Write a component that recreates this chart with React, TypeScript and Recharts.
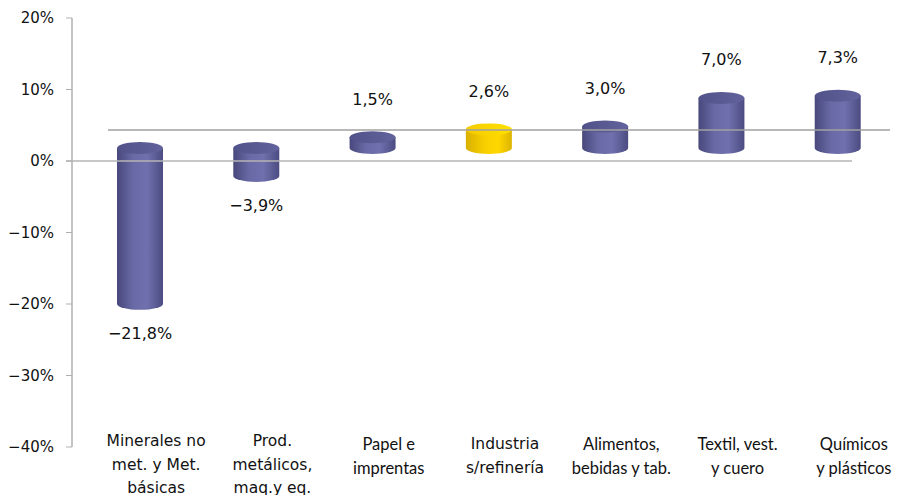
import { Bar, BarChart, Cell, LabelList, ReferenceLine, XAxis, YAxis } from 'recharts'

const categories = [
  ['Minerales no', 'met. y Met.', 'básicas'],
  ['Prod.', 'metálicos,', 'maq.y eq.'],
  ['Papel e', 'imprentas'],
  ['Industria', 's/refinería'],
  ['Alimentos,', 'bebidas y tab.'],
  ['Textil, vest.', 'y cuero'],
  ['Químicos', 'y plásticos'],
]
const values = [-21.8, -3.9, 1.5, 2.6, 3.0, 7.0, 7.3]
const highlighted = [false, false, false, true, false, false, false]
const yTicks = [-40, -30, -20, -10, 0, 10, 20]

const data = categories.map((lines, i) => ({
  name: lines.join(' '),
  value: values[i],
  hl: highlighted[i],
}))

const FONT = '"DejaVu Sans", sans-serif'
const FONT_NARROW = 'Lato, sans-serif'
// the source mixes two typefaces in the category labels
const narrowLabel = [false, false, true, false, true, true, true]
const DEPTH = 13
const RY = 6

const fmtPct = (v: number) => `${v < 0 ? '−' : ''}${Math.abs(v).toFixed(1).replace('.', ',')}%`

function Cylinder(props: any) {
  const { x, y, width, height, payload } = props
  const base = y + height - DEPTH
  const end = y - DEPTH
  const top = Math.min(base, end)
  const bottom = Math.max(base, end)
  const rx = width / 2
  const cx = x + rx
  const hl = payload?.hl
  const body = hl ? 'url(#bodyY)' : 'url(#bodyP)'
  const cap = hl ? 'url(#capY)' : 'url(#capP)'
  const d = `M${cx - rx},${top} L${cx - rx},${bottom} A${rx},${RY} 0 0 0 ${cx + rx},${bottom} L${cx + rx},${top} Z`
  return (
    <g>
      <path d={d} fill={body} />
      <ellipse cx={cx} cy={top} rx={rx} ry={RY} fill={cap} />
    </g>
  )
}

function ValueLabel(props: any) {
  const { x, y, width, value } = props
  const cx = x + width / 2
  const ly = value >= 0 ? y - 51 : y + 17
  return (
    <text x={cx} y={ly} textAnchor="middle" dominantBaseline="central" fontSize={16} fontFamily={FONT} fill="#111">
      {fmtPct(value)}
    </text>
  )
}

function CategoryTick(props: any) {
  const { x, payload, index } = props
  const lines = categories[index] ?? [payload.value]
  const startY = lines.length === 3 ? 441 : 444
  const narrow = narrowLabel[index]
  return (
    <text
      x={x + 16}
      y={startY}
      textAnchor="middle"
      fontSize={narrow ? 16.5 : 15.5}
      fontFamily={narrow ? FONT_NARROW : FONT}
      fill="#111"
    >
      {lines.map((l, i) => (
        <tspan key={i} x={x + 16} y={startY + i * 23.5} dominantBaseline="central">
          {l}
        </tspan>
      ))}
    </text>
  )
}

export default function App() {
  return (
    <BarChart
      width={906}
      height={503}
      data={data}
      margin={{ top: 18, right: 0, bottom: 26, left: 0 }}
      style={{ margin: '-8px', background: '#fff' }}
    >
      <defs>
        <linearGradient id="bodyP" x1="0" y1="0" x2="1" y2="0">
          <stop offset="0%" stopColor="#48487c" />
          <stop offset="35%" stopColor="#6969a6" />
          <stop offset="65%" stopColor="#7070ae" />
          <stop offset="100%" stopColor="#4c4c82" />
        </linearGradient>
        <linearGradient id="capP" x1="0" y1="0" x2="1" y2="0">
          <stop offset="0%" stopColor="#52528a" />
          <stop offset="100%" stopColor="#62629c" />
        </linearGradient>
        <linearGradient id="bodyY" x1="0" y1="0" x2="1" y2="0">
          <stop offset="0%" stopColor="#d9b000" />
          <stop offset="40%" stopColor="#f7cf00" />
          <stop offset="70%" stopColor="#ffd800" />
          <stop offset="100%" stopColor="#dcb400" />
        </linearGradient>
        <linearGradient id="capY" x1="0" y1="0" x2="1" y2="0">
          <stop offset="0%" stopColor="#f5cc00" />
          <stop offset="100%" stopColor="#ffe000" />
        </linearGradient>
      </defs>
      <ReferenceLine
        y={0}
        shape={(p: any) => (
          <line x1={p.x1 + 36} y1={p.y1 - 31} x2={p.x2 - 16} y2={p.y2 - 31} stroke="#a0a0a0" strokeWidth={1.5} />
        )}
      />
      <XAxis
        dataKey="name"
        axisLine={false}
        tickLine={false}
        interval={0}
        padding={{ left: 10, right: 10 }}
        tick={<CategoryTick />}
      />
      <YAxis
        width={72}
        domain={[-40, 20]}
        ticks={yTicks}
        interval={0}
        axisLine={{ stroke: '#b0b0b0', strokeWidth: 1.5 }}
        tickLine={{ stroke: '#b0b0b0' }}
        tickSize={6}
        tickFormatter={(v: number) => `${v < 0 ? '−' : ''}${Math.abs(v)}%`}
        tick={{ fill: '#111', fontSize: 15, fontFamily: FONT, dx: -10 }}
      />
      <Bar dataKey="value" barSize={46} shape={<Cylinder />} isAnimationActive={false}>
        {data.map((d, i) => (
          <Cell key={i} fill={d.hl ? '#f5d000' : '#6a6aa8'} />
        ))}
        <LabelList dataKey="value" content={<ValueLabel />} />
      </Bar>
      <ReferenceLine
        y={0}
        shape={(p: any) => (
          <line x1={p.x1 - 6} y1={p.y1} x2={p.x2 - 54} y2={p.y2} stroke="#b5b5b5" strokeWidth={1.5} />
        )}
      />
    </BarChart>
  )
}
